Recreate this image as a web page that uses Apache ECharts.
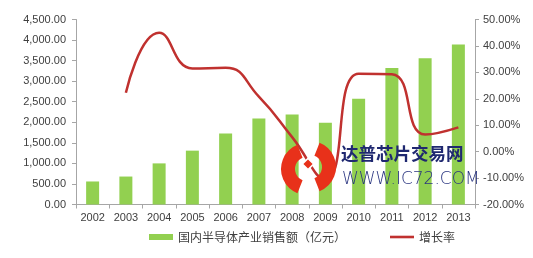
<!DOCTYPE html>
<html><head><meta charset="utf-8">
<script src="https://cdn.jsdelivr.net/npm/echarts@6/dist/echarts.min.js"></script>
<style>html,body{margin:0;padding:0;background:#fff}#c{width:533px;height:258px}</style>
</head><body><div id="c"></div>
<script>
const years = ['2002','2003','2004','2005','2006','2007','2008','2009','2010','2011','2012','2013'];
const sales = [560, 680, 1000, 1310, 1730, 2090, 2190, 1990, 2570, 3320, 3560, 3890];
const growth = [null, 22.3, 45.0, 31.5, 31.7, 20.8, 5.5, -10.5, 29.5, 29.3, 6.5, 9.2];
const salesName = '国内半导体产业销售额（亿元）';
const growthName = '增长率';
const watermarkCn = '达普芯片交易网';
const watermarkEn = 'WWW.IC72.COM';

const chart = echarts.init(document.getElementById('c'), null, {renderer:'canvas'});
const font = 'Liberation Sans, Arial, sans-serif';
const axisCol = '#A6A6A6';
const txtCol = '#404040';
chart.setOption({
  animation:false,
  backgroundColor:'#fff',
  grid:{left:76, right:58, top:19.5, bottom:53.5},
  legend:{
    left:144, top:226, itemWidth:24, itemHeight:6, itemGap:44,
    textStyle:{fontSize:12, color:txtCol, fontFamily:'Noto Sans CJK SC'},
    data:[{name:salesName, icon:'rect'},
          {name:growthName, icon:'path://M0,0H24V2.6H0Z', itemStyle:{color:'#C0312F'}}]
  },
  xAxis:{type:'category', data:years, boundaryGap:true,
    axisLine:{lineStyle:{color:axisCol}},
    axisTick:{show:true, length:4, lineStyle:{color:axisCol}},
    axisLabel:{fontSize:11, color:txtCol, fontFamily:font, margin:8}},
  yAxis:[
    {type:'value', min:0, max:4500, interval:500, position:'left',
     splitLine:{show:false},
     axisLine:{show:true, lineStyle:{color:axisCol}},
     axisTick:{show:true, length:4, lineStyle:{color:axisCol}},
     axisLabel:{fontSize:11, color:txtCol, fontFamily:font, margin:10,
       formatter:v=>v.toLocaleString('en-US',{minimumFractionDigits:2,maximumFractionDigits:2})}},
    {type:'value', min:-20, max:50, interval:10, position:'right',
     splitLine:{show:false},
     axisLine:{show:true, lineStyle:{color:axisCol}},
     axisTick:{show:true, length:4, lineStyle:{color:axisCol}},
     axisLabel:{fontSize:11, color:txtCol, fontFamily:font, margin:8,
       formatter:v=>v.toFixed(2)+'%'}}
  ],
  series:[
    {name:salesName, type:'bar', data:sales, barWidth:13, itemStyle:{color:'#92D050'}},
    {name:growthName, type:'line', yAxisIndex:1, data:growth, smooth:0.5, symbol:'none',
     lineStyle:{color:'#C0312F', width:2.5}, itemStyle:{color:'#C0312F'}}
  ],
  graphic:[
    {type:'arc', z:100, shape:{cx:307, cy:169, r:19, startAngle:Math.PI*0.62, endAngle:Math.PI*1.38},
     style:{stroke:'#E8311A', fill:null, lineWidth:14}},
    {type:'arc', z:100, shape:{cx:310, cy:167, r:19, startAngle:-Math.PI*0.38, endAngle:Math.PI*0.38},
     style:{stroke:'#E8311A', fill:null, lineWidth:14}},
    {type:'rect', z:100, x:308, y:164, rotation:Math.PI/4, originX:0, originY:0,
     shape:{x:-4, y:-4, width:8, height:8}, style:{fill:'#E8311A', stroke:'#fff', lineWidth:1.5}},
    {type:'text', z:100, left:341, top:145, style:{text:watermarkCn, fontSize:17.5, fontWeight:'bold',
      fill:'#1F2870', fontFamily:'Noto Sans CJK SC'}},
    {type:'text', z:100, left:342, top:171, style:{text:watermarkEn, fontSize:17, fontWeight:200,
      fill:'#2A3580', fontFamily:'DejaVu Sans, sans-serif'}}
  ]
});
</script></body></html>
